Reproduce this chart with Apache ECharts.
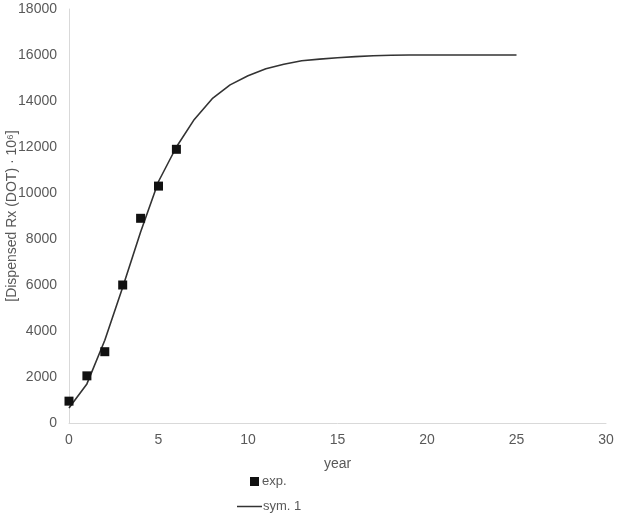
<!DOCTYPE html>
<html>
<head>
<meta charset="utf-8">
<script src="https://cdn.jsdelivr.net/npm/echarts@6/dist/echarts.min.js"></script>
<style>html,body{margin:0;padding:0;background:#fff;}#c{width:617px;height:515px;}</style>
</head>
<body>
<div id="c"></div>
<script>
const expYears = [0, 1, 2, 3, 4, 5, 6];
const expValues = [950, 2050, 3100, 6000, 8900, 10300, 11900];
const symYears = [0,1,2,3,4,5,6,7,8,9,10,11,12,13,14,15,16,17,18,19,20,21,22,23,24,25];
const symValues = [650,1700,3600,5900,8300,10500,12000,13200,14100,14700,15100,15400,15600,15750,15820,15880,15930,15970,15990,16000,16000,16000,16000,16000,16000,16000];
const xTicks = [0,5,10,15,20,25,30];
const yTicks = [0,2000,4000,6000,8000,10000,12000,14000,16000,18000];

const chart = echarts.init(document.getElementById('c'));
const txt = '#595959';
chart.setOption({
  animation: false,
  backgroundColor: '#fff',
  textStyle: {fontFamily: 'Liberation Sans, Arial, sans-serif'},
  grid: {left: 69, right: 11, top: 9, bottom: 92, containLabel: false, outerBoundsMode: 'none'},
  xAxis: {
    type: 'value', min: xTicks[0], max: xTicks[xTicks.length-1], interval: 5,
    name: 'year', nameLocation: 'middle', nameGap: 34, nameMoveOverlap: false,
    nameTextStyle: {color: txt, fontSize: 14},
    axisLine: {lineStyle: {color: '#d9d9d9', width: 1}},
    axisTick: {show: false},
    splitLine: {show: false},
    axisLabel: {color: txt, fontSize: 14, margin: 10, formatter: v => String(v)}
  },
  yAxis: {
    type: 'value', min: yTicks[0], max: yTicks[yTicks.length-1], interval: 2000,
    name: '[Dispensed Rx (DOT) · 10⁶]', nameLocation: 'middle', nameGap: 50, nameMoveOverlap: false,
    nameTextStyle: {color: txt, fontSize: 14},
    axisLine: {show: true, lineStyle: {color: '#d9d9d9', width: 1}},
    axisTick: {show: false},
    splitLine: {show: false},
    axisLabel: {color: txt, fontSize: 14, margin: 12, formatter: v => String(v)}
  },
  legend: [
    {data: [{name: 'exp.', icon: 'rect'}], left: 245, top: 470, itemWidth: 9, itemHeight: 9, itemGap: 8,
     textStyle: {color: txt, fontSize: 13, padding: [0,0,0,-2]}},
    {data: [{name: 'sym. 1', icon: 'rect'}], left: 232, top: 495, itemWidth: 25, itemHeight: 1.5,
     textStyle: {color: txt, fontSize: 13, padding: [0,0,0,-4]}}
  ],
  series: [
    {
      name: 'sym. 1', type: 'line', data: symYears.map((x,i)=>[x, symValues[i]]),
      showSymbol: false, symbol: 'none', smooth: false,
      lineStyle: {color: '#333333', width: 1.6}, itemStyle: {color: '#333333'}, z: 2
    },
    {
      name: 'exp.', type: 'scatter', data: expYears.map((x,i)=>[x, expValues[i]]),
      symbol: 'rect', symbolSize: 9, itemStyle: {color: '#111111', opacity: 1}, z: 3
    }
  ]
});
</script>
</body>
</html>
